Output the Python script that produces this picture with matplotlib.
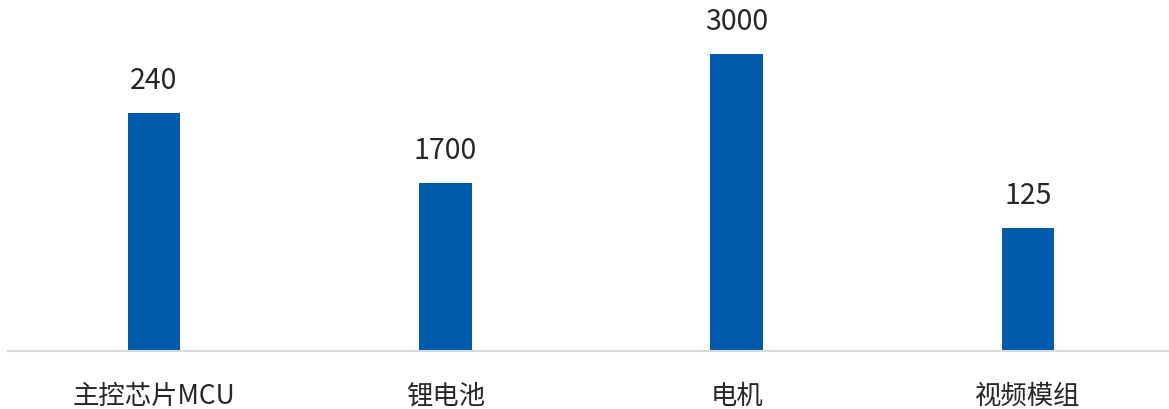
import matplotlib.pyplot as plt

plt.rcParams['font.family'] = ['Noto Sans CJK SC', 'DejaVu Sans']

# Data
categories = ['主控芯片MCU', '锂电池', '电机', '视频模组']
bar_heights = [238, 168, 297, 123]  # drawn bar heights (not to the label scale)
value_labels = ['240', '1700', '3000', '125']

bar_color = '#005BAC'

fig = plt.figure(figsize=(11.69, 4.10), dpi=100)
ax = fig.add_axes([8.3 / 1169, 1 - 352 / 410, 1165.3 / 1169, 352 / 410])

x = range(len(categories))
bars = ax.bar(x, bar_heights, width=0.18, color=bar_color)

for b, lab in zip(bars, value_labels):
    ax.annotate(lab, (b.get_x() + b.get_width() / 2, b.get_height()),
                xytext=(0, 13), textcoords='offset points',
                ha='center', va='bottom', fontsize=20.5, color='#262626',
                fontweight='light')

ax.set_xlim(-0.5, 3.5)
ax.set_ylim(0, 352)
ax.set_xticks(list(x))
ax.set_xticklabels(categories, fontsize=19, color='#262626', fontweight='light')
ax.tick_params(axis='x', length=0, pad=22)
ax.set_yticks([])
for s in ['top', 'right', 'left']:
    ax.spines[s].set_visible(False)
ax.spines['bottom'].set_color('#d9d9d9')
ax.spines['bottom'].set_linewidth(1.5)

fig.savefig('out.png', dpi=100)
